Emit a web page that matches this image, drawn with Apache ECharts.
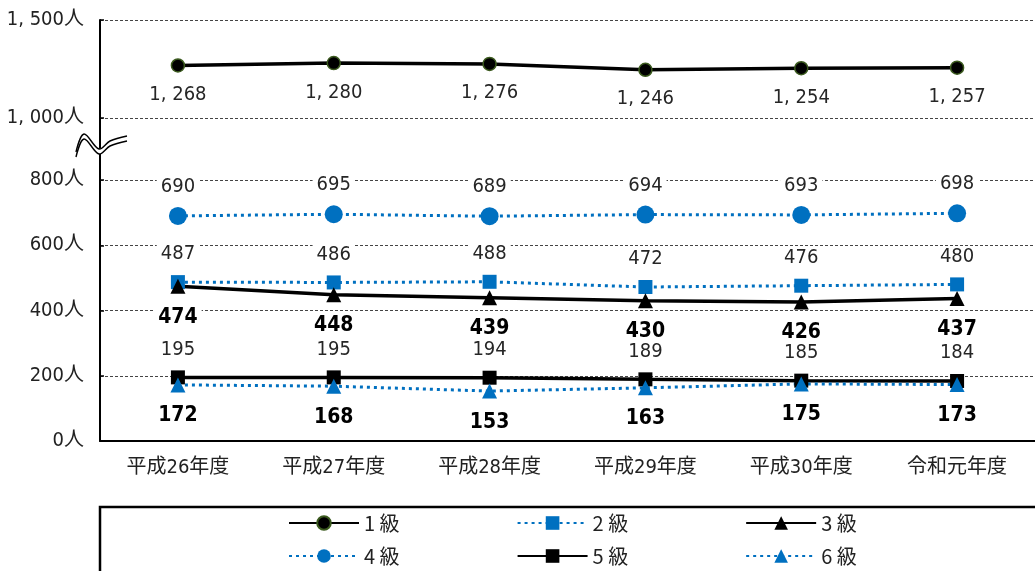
<!DOCTYPE html>
<html>
<head>
<meta charset="utf-8">
<script src="https://cdn.jsdelivr.net/npm/echarts@6/dist/echarts.min.js"></script>
<style>
  html, body { margin: 0; padding: 0; background: #fff; }
  #chart { width: 1035px; height: 571px; }
</style>
</head>
<body>
<div id="chart"></div>
<script>
// 年度
const years = ['平成26年度', '平成27年度', '平成28年度', '平成29年度', '平成30年度', '令和元年度'];
// 等級別の人数
const grade1 = [1268, 1280, 1276, 1246, 1254, 1257];
const grade2 = [487, 486, 488, 472, 476, 480];
const grade3 = [474, 448, 439, 430, 426, 437];
const grade4 = [690, 695, 689, 694, 693, 698];
const grade5 = [195, 195, 194, 189, 185, 184];
const grade6 = [172, 168, 153, 163, 175, 173];
const gradeNames = ['1 級', '2 級', '3 級', '4 級', '5 級', '6 級'];
// 縦軸の範囲（上段は省略波線より上）
const upperRange = [1000, 1500, 500];
const lowerRange = [0, 800, 200];

const BLUE = '#0070C0';
const FONT = "'Liberation Sans Narrow', 'DejaVu Sans Condensed', 'Noto Sans CJK JP', sans-serif";
const CJK = "'Noto Sans CJK JP', sans-serif";

// 3桁区切りは「1, 268」の形
const fmt = v => String(v).replace(/\B(?=(\d{3})+(?!\d))/g, ', ');

const chart = echarts.init(document.getElementById('chart'));

const gridLine = { show: true, lineStyle: { color: '#444', width: 1, type: [3, 2] } };
const yAxisBase = {
  type: 'value',
  axisLine: { show: true, lineStyle: { color: '#000', width: 2 } },
  axisTick: { show: true, inside: true, length: 4, lineStyle: { color: '#000', width: 1.5 } },
  splitLine: gridLine,
  axisLabel: {
    fontFamily: FONT, fontSize: 20, color: '#222', margin: 16,
    formatter: v => fmt(v) + '人'
  }
};

function lbl(pos, dist, bold) {
  return {
    show: true, position: pos, distance: dist,
    fontFamily: FONT, fontSize: bold ? 21 : 20,
    fontWeight: bold ? 'bold' : 'normal',
    color: bold ? '#000' : '#262626',
    backgroundColor: '#fff', padding: [0, 4],
    formatter: p => fmt(p.value)
  };
}

const solid = { color: '#000', width: 3.5 };
const dotted = { color: BLUE, width: 3, type: [3, 4] };

const legendBase = {
  left: 283, itemWidth: 70, itemHeight: 17, itemGap: 117,
  textStyle: { fontFamily: CJK, fontSize: 20, color: '#222', width: 40 }
};

// 波線の形（上下2本）
const wave = [[76, 152], [84, 134], [99, 149], [110, 141], [127, 136]];
const shifted = dy => wave.map(p => [p[0], p[1] + dy]);

chart.setOption({
  animation: false,
  backgroundColor: '#fff',
  grid: [
    { left: 100, top: 20, width: 938, height: 98 },
    { left: 100, top: 180, width: 938, height: 261 }
  ],
  xAxis: [
    { type: 'category', gridIndex: 0, data: years, show: false },
    {
      type: 'category', gridIndex: 1, data: years,
      axisLine: { lineStyle: { color: '#000', width: 2 } },
      axisTick: { inside: true, length: 5, lineStyle: { color: '#000', width: 1.5 } },
      axisLabel: { fontFamily: FONT, fontSize: 20, color: '#222', margin: 17 }
    }
  ],
  yAxis: [
    Object.assign({}, yAxisBase, { gridIndex: 0, min: upperRange[0], max: upperRange[1], interval: upperRange[2] }),
    Object.assign({}, yAxisBase, { gridIndex: 1, min: lowerRange[0], max: lowerRange[1], interval: lowerRange[2] })
  ],
  legend: [
    Object.assign({ data: gradeNames.slice(0, 3), top: 508 }, legendBase),
    Object.assign({ data: gradeNames.slice(3), top: 541 }, legendBase)
  ],
  series: [
    {
      name: gradeNames[0], type: 'line', xAxisIndex: 0, yAxisIndex: 0, data: grade1,
      symbol: 'circle', symbolSize: 13,
      itemStyle: { color: '#000', borderColor: '#3B5A1E', borderWidth: 1.5 },
      lineStyle: solid, label: lbl('bottom', 12, false)
    },
    {
      name: gradeNames[1], type: 'line', xAxisIndex: 1, yAxisIndex: 1, data: grade2,
      symbol: 'rect', symbolSize: 14,
      itemStyle: { color: BLUE }, lineStyle: dotted, label: lbl('top', 11, false)
    },
    {
      name: gradeNames[2], type: 'line', xAxisIndex: 1, yAxisIndex: 1, data: grade3,
      symbol: 'triangle', symbolSize: 15,
      itemStyle: { color: '#000' }, lineStyle: solid, label: lbl('bottom', 13, true)
    },
    {
      name: gradeNames[3], type: 'line', xAxisIndex: 1, yAxisIndex: 1, data: grade4,
      symbol: 'circle', symbolSize: 18,
      itemStyle: { color: BLUE }, lineStyle: dotted, label: lbl('top', 10, false)
    },
    {
      name: gradeNames[4], type: 'line', xAxisIndex: 1, yAxisIndex: 1, data: grade5,
      symbol: 'rect', symbolSize: 14,
      itemStyle: { color: '#000' }, lineStyle: solid, label: lbl('top', 11, false)
    },
    {
      name: gradeNames[5], type: 'line', xAxisIndex: 1, yAxisIndex: 1, data: grade6,
      symbol: 'triangle', symbolSize: 15,
      itemStyle: { color: BLUE }, lineStyle: dotted, label: lbl('bottom', 13, true)
    }
  ],
  graphic: [
    // 上段と下段をつなぐ縦軸
    { type: 'line', z: 50, shape: { x1: 100, y1: 118, x2: 100, y2: 180 }, style: { stroke: '#000', lineWidth: 2 } },
    // 省略を示す波線
    {
      type: 'polyline', z: 60,
      shape: { points: shifted(2.5), smooth: 0.35 },
      style: { stroke: '#fff', lineWidth: 5, fill: null }
    },
    {
      type: 'polyline', z: 61,
      shape: { points: shifted(0), smooth: 0.35 },
      style: { stroke: '#000', lineWidth: 1.4, fill: null }
    },
    {
      type: 'polyline', z: 61,
      shape: { points: shifted(5), smooth: 0.35 },
      style: { stroke: '#000', lineWidth: 1.4, fill: null }
    },
    // 凡例の枠
    {
      type: 'rect', z: 1,
      shape: { x: 100, y: 507, width: 1000, height: 120 },
      style: { fill: null, stroke: '#000', lineWidth: 2.5 }
    }
  ]
});
</script>
</body>
</html>
